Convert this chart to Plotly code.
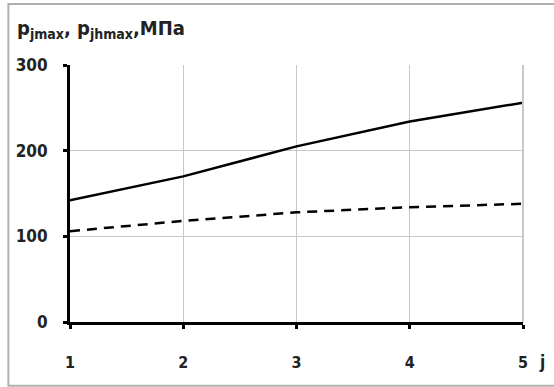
import plotly.graph_objects as go

j_values = [1, 2, 3, 4, 5]
p_jmax = [142, 170, 205, 234, 256]
p_jhmax = [106, 118, 128, 134, 138]
y_ticks = [0, 100, 200, 300]

FONT = "Liberation Sans Narrow, DejaVu Sans Condensed, Arial Narrow, sans-serif"

fig = go.Figure()
fig.add_trace(go.Scatter(x=j_values, y=p_jmax, mode="lines",
                         line=dict(color="black", width=2.5), showlegend=False))
fig.add_trace(go.Scatter(x=j_values, y=p_jhmax, mode="lines",
                         line=dict(color="black", width=2.5, dash="10px,7px"), showlegend=False))

fig.update_layout(
    width=554, height=387,
    margin=dict(l=70, r=31, t=65, b=65),
    plot_bgcolor="white", paper_bgcolor="white",
    font=dict(family=FONT, size=15, color="#222"),
)
fig.update_xaxes(
    range=[1, 5], tickvals=j_values, showgrid=True, gridcolor="#c8c8c8", gridwidth=1,
    showline=True, linecolor="black", linewidth=3, ticks="outside", ticklen=4,
    tickcolor="black", tickwidth=3, zeroline=False, ticklabelstandoff=20,
    tickfont=dict(family=FONT, size=16, color="#222", weight="bold"),
)
fig.update_yaxes(
    range=[0, 300], tickvals=y_ticks, showgrid=True, gridcolor="#c8c8c8", gridwidth=1,
    showline=True, linecolor="black", linewidth=3, ticks="outside", ticklen=4,
    tickcolor="black", tickwidth=3, zeroline=False, ticklabelstandoff=12,
    tickfont=dict(family=FONT, size=17, color="#222", weight="bold"),
)
# right light border
fig.add_shape(type="line", xref="paper", yref="paper", x0=1, x1=1, y0=0, y1=1,
              line=dict(color="#c8c8c8", width=2))
# outer frame
fig.add_shape(type="rect", xref="paper", yref="paper", x0=-0.136, x1=1.1, y0=-0.248, y1=1.237,
              line=dict(color="#b0b0b0", width=2), layer="below")

fig.add_annotation(xref="paper", yref="paper", x=-0.122, y=1.14, xanchor="left", yanchor="middle",
                   showarrow=False,
                   text="<b>p<sub>jmax</sub>, p<sub>jhmax</sub>,МПа</b>",
                   font=dict(family=FONT, size=20, color="#222"))
fig.add_annotation(xref="paper", yref="paper", x=1.03, y=-0.155, xanchor="left", yanchor="middle",
                   showarrow=False, text="<b>j</b>",
                   font=dict(family=FONT, size=17, color="#222"))

fig.write_html("out.html", config={"displayModeBar": False},
               post_script="document.body.style.margin='0';document.body.style.overflow='hidden';")
